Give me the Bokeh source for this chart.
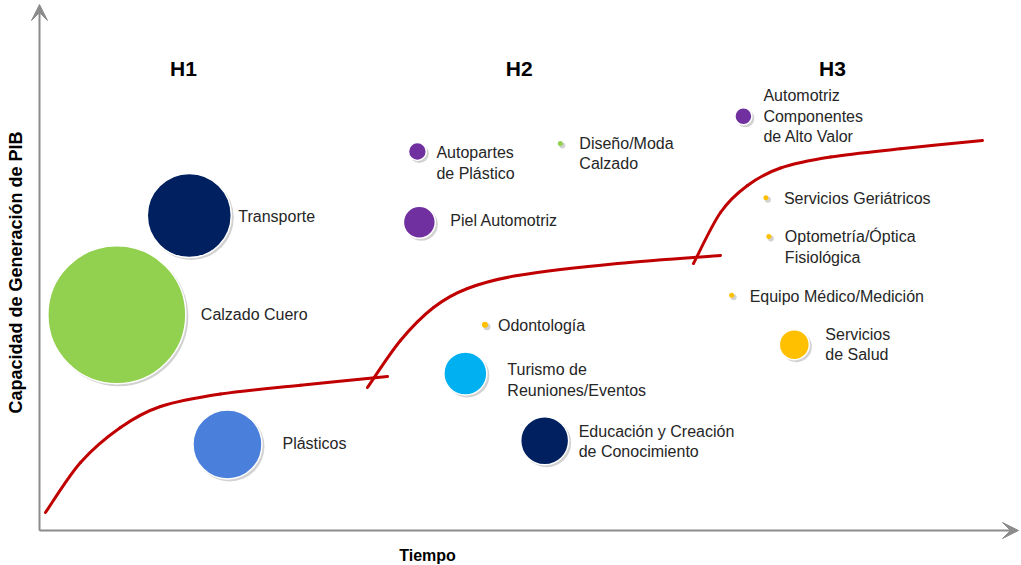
import math
from bokeh.plotting import figure
from bokeh.models import Range1d, ColumnDataSource, Arrow, VeeHead
from bokeh.core.properties import value
from bokeh.embed import file_html
from bokeh.resources import INLINE

# ---------------- data ----------------
sectores = [
    "Calzado Cuero", "Transporte", "Plásticos",
    "Autopartes\nde Plástico", "Piel Automotriz", "Diseño/Moda\nCalzado",
    "Automotriz\nComponentes\nde Alto Valor", "Servicios Geriátricos",
    "Optometría/Óptica\nFisiológica", "Equipo Médico/Medición",
    "Servicios\nde Salud", "Odontología", "Turismo de\nReuniones/Eventos",
    "Educación y Creación\nde Conocimiento",
]
tiempo = [7.9, 15.3, 19.2, 38.6, 38.8, 53.2, 71.9, 74.2, 74.5, 70.7, 77.1, 45.5, 43.5, 51.6]
capacidad = [41.1, 60.0, 16.4, 72.2, 58.7, 73.7, 78.9, 63.4, 56.0, 44.8, 35.4, 39.2, 29.9, 17.1]
tamano = [190.4, 70.6, 47.6, 3.2, 10.2, 0.25, 2.9, 0.25, 0.25, 0.25, 9.0, 0.36, 18.5, 23.0]
colores = ["#92D050", "#002060", "#4A7FDB", "#7030A0", "#7030A0", "#92D050",
           "#7030A0", "#FFC000", "#FFC000", "#FFC000", "#FFC000", "#FFC000",
           "#00B0F0", "#002060"]

curva1_x = [0.61, 4.19, 8.27, 12.36, 18.49, 26.66, 35.55]
curva1_y = [3.43, 12.95, 19.62, 23.62, 26.00, 27.68, 29.33]
curva2_x = [33.50, 36.87, 40.25, 43.72, 48.83, 59.04, 69.56]
curva2_y = [27.24, 36.19, 42.48, 46.10, 48.57, 50.86, 52.38]
curva3_x = [66.80, 69.56, 72.32, 75.69, 80.80, 87.95, 96.32]
curva3_y = [50.86, 60.57, 65.71, 69.05, 71.14, 72.72, 74.29]

horizontes = ["H1", "H2", "H3"]
horizonte_x = [14.7, 49.0, 81.0]
horizonte_y = [88.0, 88.0, 88.0]

# ---------------- layout / style ----------------
PX_X = 9.79   # screen pixels per x unit
PX_Y = 5.25   # screen pixels per y unit
W, H = 1021, 565
label_dx = [84, 49, 55, 19, 31, 19, 20, 18, 16, 18, 31, 13, 42, 34]
label_dy = [0, 1, -1, 11.5, -2, 10, 0, 1, 10.5, 1, 0, 1, 6.5, 0.5]

sizes = [10 * math.sqrt(v) for v in tamano]
src = ColumnDataSource(dict(
    x=tiempo, y=capacidad, size=sizes, color=colores, name=sectores,
    sx=[v + 2.0 / PX_X for v in tiempo], sy=[v - 2.0 / PX_Y for v in capacidad],
    ssize=[s + 1 for s in sizes], dx=label_dx, dy=label_dy,
    lw=[1.5 if s > 10 else 0 for s in sizes],
))

p = figure(width=W, height=H,
           x_range=Range1d(-39 / PX_X, (W - 39) / PX_X),
           y_range=Range1d(-(H - 530) / PX_Y, 530 / PX_Y),
           x_axis_type=None, y_axis_type=None,
           toolbar_location=None, output_backend="svg",
           min_border=0)
p.outline_line_color = None
p.background_fill_color = "white"
p.border_fill_color = "white"

axis_col = "#8C8C8C"
p.add_layout(Arrow(end=VeeHead(size=16, fill_color=axis_col, line_color=axis_col),
                   x_start=0, y_start=0, x_end=0, y_end=526 / PX_Y,
                   line_color=axis_col, line_width=2))
p.add_layout(Arrow(end=VeeHead(size=16, fill_color=axis_col, line_color=axis_col),
                   x_start=0, y_start=0, x_end=979 / PX_X, y_end=0,
                   line_color=axis_col, line_width=2))


def smooth_curve(xs, ys):
    """Catmull-Rom spline through the points, drawn as cubic Bezier segments."""
    n = len(xs)
    x0, y0, x1, y1, cx0, cy0, cx1, cy1 = ([] for _ in range(8))
    for i in range(n - 1):
        ip, inn = max(i - 1, 0), min(i + 2, n - 1)
        x0.append(xs[i]); y0.append(ys[i])
        x1.append(xs[i + 1]); y1.append(ys[i + 1])
        cx0.append(xs[i] + (xs[i + 1] - xs[ip]) / 6)
        cy0.append(ys[i] + (ys[i + 1] - ys[ip]) / 6)
        cx1.append(xs[i + 1] - (xs[inn] - xs[i]) / 6)
        cy1.append(ys[i + 1] - (ys[inn] - ys[i]) / 6)
    return dict(x0=x0, y0=y0, x1=x1, y1=y1, cx0=cx0, cy0=cy0, cx1=cx1, cy1=cy1)


for cx, cy in ((curva1_x, curva1_y), (curva2_x, curva2_y), (curva3_x, curva3_y)):
    p.bezier(source=ColumnDataSource(smooth_curve(cx, cy)),
             x0="x0", y0="y0", x1="x1", y1="y1",
             cx0="cx0", cy0="cy0", cx1="cx1", cy1="cy1",
             line_color="#C00000", line_width=3, line_cap="round")

p.scatter("sx", "sy", size="ssize", source=src, fill_color="#7F7F7F",
          fill_alpha=0.35, line_color=None)
p.scatter("x", "y", size="size", source=src, fill_color="color",
          line_color="white", line_width="lw")

p.text("x", "y", text="name", source=src, x_offset="dx", y_offset="dy",
       text_font=value("Liberation Sans"), text_font_size="16px",
       text_color="#262626", text_align="left", text_baseline="middle",
       text_line_height=1.2)

p.text(horizonte_x, horizonte_y, text=horizontes,
       text_font=value("Liberation Sans"), text_font_size="21px",
       text_font_style="bold", text_color="#000000",
       text_align="center", text_baseline="middle")

p.text([388 / PX_X], [-25 / PX_Y], text=["Tiempo"],
       text_font=value("Liberation Sans"), text_font_size="16px",
       text_font_style="bold", text_color="#000000",
       text_align="center", text_baseline="alphabetic")
p.text([-24 / PX_X], [258 / PX_Y], text=["Capacidad de Generación de PIB"],
       angle=math.pi / 2,
       text_font=value("Liberation Sans"), text_font_size="18px",
       text_font_style="bold", text_color="#000000",
       text_align="center", text_baseline="middle")

open("out.html", "w").write(file_html(p, INLINE))
